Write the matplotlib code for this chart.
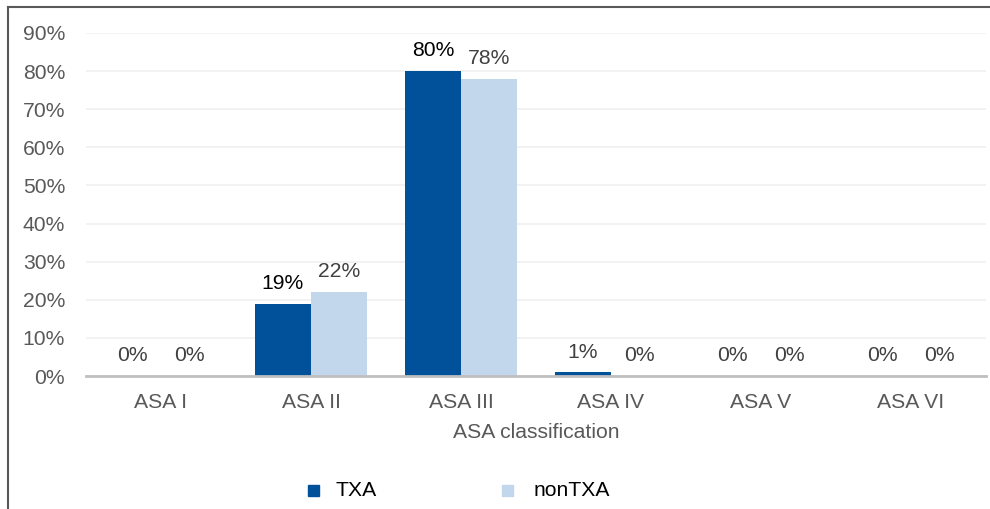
import matplotlib as mpl

mpl.use("Agg")

import matplotlib.pyplot as plt
from matplotlib.lines import Line2D
from matplotlib.patches import Rectangle
import numpy as np

plt.rcParams.update({"font.family": ["Liberation Sans", "DejaVu Sans"]})

categories = ["ASA I", "ASA II", "ASA III", "ASA IV", "ASA V", "ASA VI"]
txa = [0, 19, 80, 1, 0, 0]
non_txa = [0, 22, 78, 0, 0, 0]
yticks = [0, 10, 20, 30, 40, 50, 60, 70, 80, 90]

c_txa = "#00519a"
c_non = "#c3d7ec"
fs = 15.2

fig = plt.figure(figsize=(9.9, 5.09), dpi=100)
ax = fig.add_axes([86 / 990, 1 - 376 / 509, 900 / 990, (376 - 33) / 509])

x = np.arange(len(categories))
w = 0.375
b1 = ax.bar(x - w / 2, txa, w, color=c_txa, label="TXA", zorder=3)
b2 = ax.bar(x + w / 2, non_txa, w, color=c_non, label="nonTXA", zorder=3)

for rect, v in zip(b1, txa):
    ax.text(rect.get_x() + rect.get_width() / 2, v + 2.8, f"{v}%",
            ha="center", va="bottom", fontsize=fs,
            color="black" if v >= 10 else "#404040")
for rect, v in zip(b2, non_txa):
    ax.text(rect.get_x() + rect.get_width() / 2, v + 2.8, f"{v}%",
            ha="center", va="bottom", fontsize=fs, color="#404040")

ax.set_xlim(-0.5, len(categories) - 0.5)
ax.set_ylim(0, 90)
ax.set_yticks(yticks)
ax.set_yticklabels([f"{t}%" for t in yticks])
ax.set_xticks(x)
ax.set_xticklabels(categories)
ax.tick_params(axis="both", length=0, labelsize=fs, labelcolor="#595959")
ax.tick_params(axis="y", pad=15)
ax.tick_params(axis="x", pad=12)
ax.grid(axis="y", color="#f0f0f0", linewidth=1.2, zorder=0)
for s in ["top", "right", "left"]:
    ax.spines[s].set_visible(False)
ax.spines["bottom"].set_color("#bfbfbf")
ax.spines["bottom"].set_linewidth(2)
ax.spines["bottom"].set_zorder(4)
ax.set_xlabel("ASA classification", fontsize=fs, color="#595959", labelpad=8)

# legend
fig.text(336 / 990, 1 - 491 / 509, "TXA", fontsize=fs, va="center", color="black")
fig.text(534 / 990, 1 - 491 / 509, "nonTXA", fontsize=fs, va="center", color="black")
fig.patches.append(Rectangle((308 / 990, 1 - 496 / 509), 11 / 990, 11 / 509,
                             transform=fig.transFigure, color=c_txa))
fig.patches.append(Rectangle((502 / 990, 1 - 496 / 509), 11 / 990, 11 / 509,
                             transform=fig.transFigure, color=c_non))

# frame
fig.lines.append(Line2D([8 / 990, 8 / 990], [0, 1 - 7 / 509], transform=fig.transFigure,
                        color="#595959", linewidth=1.5))
fig.lines.append(Line2D([8 / 990, 1], [1 - 7 / 509, 1 - 7 / 509], transform=fig.transFigure,
                        color="#595959", linewidth=1.5))

plt.savefig("out.png", dpi=100)
plt.close()
